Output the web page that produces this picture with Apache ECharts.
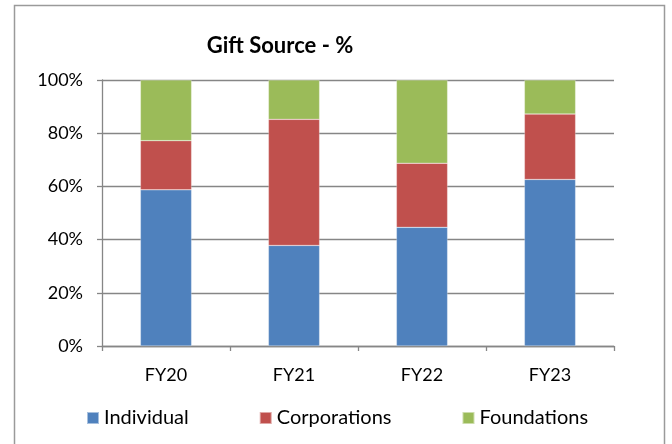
<!DOCTYPE html>
<html>
<head>
<meta charset="utf-8">
<script src="https://cdn.jsdelivr.net/npm/echarts@6/dist/echarts.min.js"></script>
<style>
  html, body { margin: 0; padding: 0; background: #fff; }
  #chart { width: 672px; height: 444px; }
</style>
</head>
<body>
<div id="chart"></div>
<script>
const years = ["FY20", "FY21", "FY22", "FY23"];
const individual = [58.7, 37.8, 44.6, 62.6];
const corporations = [18.5, 47.4, 24.1, 24.6];
const foundations = [22.8, 14.8, 31.3, 12.8];
const yTicks = [0, 20, 40, 60, 80, 100];

const font = "Lato, 'Open Sans', sans-serif";
const axisGray = "#868686";

var myChart = echarts.init(document.getElementById("chart"));

const makeSeries = (name, data, color) => ({
  name,
  type: "bar",
  stack: "total",
  barWidth: "40%",
  data,
  itemStyle: { color, borderColor: "rgba(255,255,255,0.5)", borderWidth: 0.5 },
});

myChart.setOption({
  animation: false,
  textStyle: { fontFamily: font, color: "#000" },
  graphic: [
    {
      // outer chart frame
      type: "rect",
      shape: { x: 14.5, y: 5.5, width: 650, height: 460 },
      style: { fill: "none", stroke: "#9a9a9a", lineWidth: 1.5 },
    },
  ],
  title: {
    text: "Gift Source - %",
    left: 275,
    top: 30,
    textAlign: "center",
    textStyle: { fontFamily: font, fontSize: 22, fontWeight: "bold", color: "#000" },
  },
  grid: {
    left: 102,
    right: 58,
    top: 80,
    bottom: 98,
  },
  legend: {
    left: 81,
    top: 403,
    itemWidth: 12,
    itemHeight: 12,
    itemGap: 70,
    icon: "rect",
    textStyle: { fontFamily: font, fontSize: 20, color: "#000" },
    data: ["Individual", "Corporations", "Foundations"],
  },
  xAxis: {
    type: "category",
    data: years,
    axisLine: { lineStyle: { color: axisGray, width: 1.3 } },
    axisTick: { show: true, length: 5, lineStyle: { color: axisGray, width: 1.3 } },
    axisLabel: { fontFamily: font, fontSize: 18, color: "#000", margin: 20 },
  },
  yAxis: {
    type: "value",
    min: yTicks[0],
    max: yTicks[yTicks.length - 1],
    interval: yTicks[1] - yTicks[0],
    axisLine: { show: true, lineStyle: { color: axisGray, width: 1.3 } },
    axisTick: { show: true, length: 5, lineStyle: { color: axisGray, width: 1.3 } },
    splitLine: { show: true, lineStyle: { color: axisGray, width: 1.3 } },
    axisLabel: { fontFamily: font, fontSize: 18, color: "#000", margin: 19, formatter: "{value}%" },
  },
  series: [
    makeSeries("Individual", individual, "#4F81BD"),
    makeSeries("Corporations", corporations, "#C0504D"),
    makeSeries("Foundations", foundations, "#9BBB59"),
  ],
});
</script>
</body>
</html>
